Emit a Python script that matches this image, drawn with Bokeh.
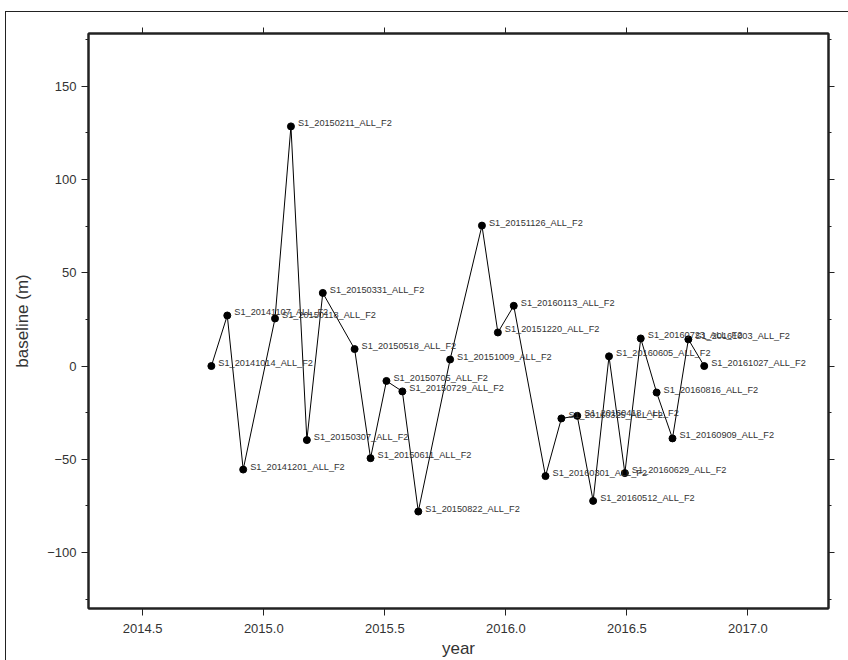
import datetime
from bokeh.plotting import figure
from bokeh.models import (ColumnDataSource, LinearAxis, Range1d, SingleIntervalTicker,
                          PrintfTickFormatter, CustomJSTickFormatter)
from bokeh.embed import file_html
from bokeh.resources import INLINE
from bokeh.core.properties import value

# acquisition dates (labels) and perpendicular baselines (m)
dates = ["20141014", "20141107", "20141201", "20150118", "20150211", "20150307",
         "20150331", "20150518", "20150611", "20150705", "20150729", "20150822",
         "20151009", "20151126", "20151220", "20160113", "20160301", "20160325",
         "20160418", "20160512", "20160605", "20160629", "20160723", "20160816",
         "20160909", "20161003", "20161027"]
baselines = [0.0, 27.1, -55.5, 25.5, 128.5, -39.7,
             39.2, 9.1, -49.4, -8.0, -13.6, -78.0,
             3.5, 75.3, 18.0, 32.3, -59.0, -28.1,
             -26.7, -72.3, 5.2, -57.4, 14.8, -14.2,
             -38.8, 14.3, 0.0]


def decimal_year(s):
    d = datetime.date(int(s[:4]), int(s[4:6]), int(s[6:]))
    start = datetime.date(d.year, 1, 1)
    ndays = (datetime.date(d.year + 1, 1, 1) - start).days
    return d.year + (d - start).days / ndays


years = [decimal_year(s) for s in dates]
labels = ["S1_%s_ALL_F2" % s for s in dates]

src = ColumnDataSource(dict(x=years, y=baselines, label=labels))

FONT = "Liberation Sans"
TXT = "#333333"
EDGE = "#222222"

p = figure(width=848, height=660, output_backend="svg", toolbar_location=None,
           x_range=Range1d(2014.276, 2017.333), y_range=Range1d(-130.0, 178.3),
           min_border_left=88, min_border_right=20, min_border_top=33, min_border_bottom=52,
           x_axis_label="year", y_axis_label="baseline (m)")
# thin outer frame of the whole figure (left and top edges)
p.styles = {
    "background": ("linear-gradient(#222,#222) 5px 11px / 1px 100% no-repeat, "
                   "linear-gradient(#222,#222) 5px 11px / 100% 1px no-repeat, white"),
}

p.grid.visible = False
p.outline_line_color = EDGE
p.outline_line_width = 2
p.background_fill_color = "white"
p.border_fill_color = None

xticker = SingleIntervalTicker(interval=0.5, num_minor_ticks=0)
yticker = SingleIntervalTicker(interval=50, num_minor_ticks=2)
yfmt = CustomJSTickFormatter(code="return tick < 0 ? '\u2212' + Math.abs(tick) : String(tick);")
blank = CustomJSTickFormatter(code="return '';")

for ax in [p.xaxis[0], p.yaxis[0]]:
    ax.axis_line_color = EDGE
    ax.axis_line_width = 2
    ax.major_tick_line_color = EDGE
    ax.minor_tick_line_color = EDGE
    ax.major_tick_out = 7
    ax.major_tick_in = 0
    ax.minor_tick_out = 3
    ax.minor_tick_in = 0
    ax.major_label_text_font = FONT
    ax.major_label_text_font_size = "13px"
    ax.major_label_text_color = TXT
    ax.axis_label_text_font = FONT
    ax.axis_label_text_font_size = "17px"
    ax.axis_label_text_font_style = "normal"
    ax.axis_label_text_color = TXT

p.xaxis[0].ticker = xticker
p.xaxis[0].formatter = PrintfTickFormatter(format="%.1f")
p.xaxis[0].major_label_standoff = 8
p.xaxis[0].axis_label_standoff = 3
p.yaxis[0].ticker = yticker
p.yaxis[0].formatter = yfmt
p.yaxis[0].major_label_standoff = 5
p.yaxis[0].axis_label_standoff = 12

top = LinearAxis(ticker=xticker, formatter=blank, major_label_standoff=0,
                 axis_line_color=EDGE, axis_line_width=2, major_tick_out=6, major_tick_in=0,
                 minor_tick_out=0, minor_tick_in=0, major_tick_line_color=EDGE)
right = LinearAxis(ticker=yticker, formatter=blank, major_label_standoff=0,
                   axis_line_color=EDGE, axis_line_width=2, major_tick_out=6, major_tick_in=0,
                   minor_tick_out=3, minor_tick_in=0, major_tick_line_color=EDGE,
                   minor_tick_line_color=EDGE)
p.add_layout(top, "above")
p.add_layout(right, "right")

p.line("x", "y", source=src, line_color="black", line_width=1)
p.scatter("x", "y", source=src, size=7, fill_color="black", line_color="black")
p.text("x", "y", text="label", source=src, x_offset=7, y_offset=-3,
       text_font=value(FONT), text_font_size="9.2px", text_color=TXT,
       text_align="left", text_baseline="alphabetic")

open("out.html", "w").write(file_html(p, INLINE))
